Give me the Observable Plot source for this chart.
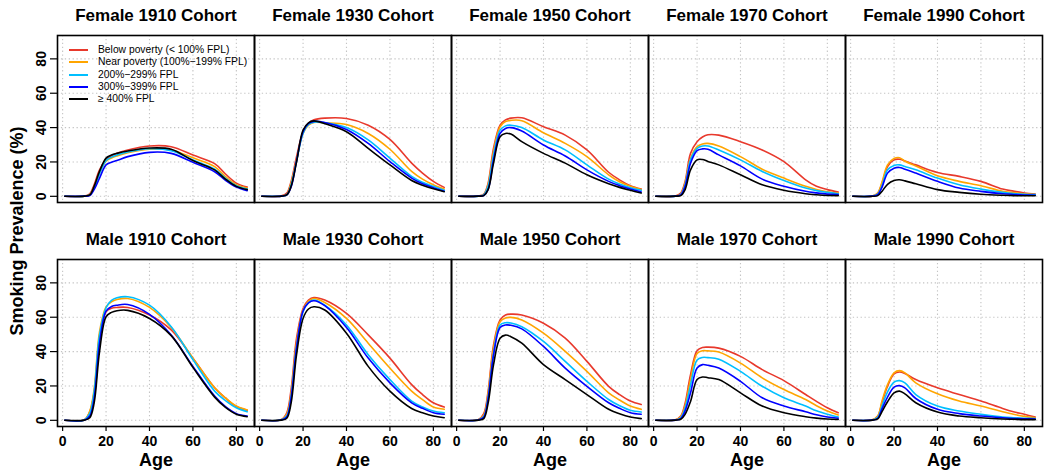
<!DOCTYPE html>
<html><head><meta charset="utf-8">
<script src="https://cdn.jsdelivr.net/npm/d3@7"></script>
<script src="https://cdn.jsdelivr.net/npm/@observablehq/plot@0.6"></script>
<style>
body{margin:0;background:#fff;font-family:"Liberation Sans",Arial,sans-serif;}
#wrap{position:relative;width:1050px;height:476px;}
#ylab{position:absolute;left:17px;top:231px;transform:translate(-50%,-50%) rotate(-90deg);font-weight:bold;font-size:18px;white-space:nowrap;}
#legend{position:absolute;left:69px;top:44px;font-size:10.3px;line-height:12.3px;}
.lrow{display:flex;align-items:center;height:12.3px;}
.sw{width:19px;height:2px;margin-right:10px;}
</style>
</head><body>
<div id="wrap"><div id="ylab">Smoking Prevalence (%)</div><div id="legend"></div></div>
<script>
const ages = [1, 10, 12.5, 14.5, 17, 20, 22.5, 25, 30, 40, 50, 60, 70, 75, 80, 85];
const groups = ["Below poverty (< 100% FPL)", "Near poverty (100%−199% FPL)", "200%−299% FPL", "300%−399% FPL", "≥ 400% FPL"];
const colors = ["#E8392C", "#FFA500", "#00BFFF", "#0000FF", "#000000"];
const titles = ["Female 1910 Cohort", "Female 1930 Cohort", "Female 1950 Cohort", "Female 1970 Cohort", "Female 1990 Cohort",
                "Male 1910 Cohort", "Male 1930 Cohort", "Male 1950 Cohort", "Male 1970 Cohort", "Male 1990 Cohort"];
const xTicks = [0, 20, 40, 60, 80];
const yTicks = [0, 20, 40, 60, 80];

// each panel: rows = groups (below, near, 200-299, 300-399, >=400), columns = ages
const female1910 = [
  [0, 0.2, 1.5, 6.7, 15.4, 21.2, 23.5, 25.0, 27.0, 29.3, 28.9, 24.0, 19.0, 13.0, 7.7, 5.4],
  [0, 0.1, 0.8, 5.4, 13.5, 20.5, 22.3, 23.5, 25.4, 27.4, 27.0, 22.4, 17.3, 11.5, 6.8, 4.8],
  [0, 0.1, 0.8, 5.0, 13.2, 20.8, 22.8, 24.0, 25.8, 27.7, 26.6, 21.2, 15.8, 10.5, 6.2, 4.2],
  [0, 0.1, 0.4, 3.9, 10.6, 18.3, 19.8, 20.8, 23.1, 25.6, 25.0, 19.8, 14.3, 9.3, 5.4, 3.3],
  [0, 0.1, 0.8, 5.8, 14.5, 22.2, 24.0, 25.0, 26.4, 28.1, 27.4, 20.8, 15.4, 10.0, 5.8, 3.9]
];
const female1930 = [
  [0, 0.3, 1.9, 8.7, 23.0, 37.6, 42.4, 44.5, 45.5, 45.3, 41.4, 33.1, 19.3, 13.5, 8.7, 5.2],
  [0, 0.2, 1.2, 7.7, 21.0, 36.6, 41.4, 43.0, 42.8, 41.8, 36.6, 27.4, 14.5, 10.0, 6.7, 4.2],
  [0, 0.2, 0.8, 6.7, 20.5, 36.6, 41.8, 43.2, 42.8, 40.0, 32.8, 22.2, 11.6, 8.2, 5.8, 3.5],
  [0, 0.1, 0.8, 5.4, 20.5, 37.6, 42.4, 43.6, 43.0, 38.9, 30.8, 20.2, 10.6, 7.3, 5.0, 2.9],
  [0, 0.1, 0.8, 5.8, 20.0, 38.5, 42.8, 43.9, 42.3, 37.6, 27.9, 18.3, 9.2, 6.5, 4.4, 2.7]
];
const female1950 = [
  [0, 0.2, 1.3, 7.7, 28.0, 41.4, 44.5, 45.5, 45.7, 40.5, 35.6, 27.0, 14.0, 9.6, 6.2, 4.2],
  [0, 0.2, 1.0, 6.7, 26.0, 40.5, 43.5, 44.2, 44.0, 37.0, 30.8, 23.1, 12.5, 8.5, 5.8, 3.9],
  [0, 0.1, 0.8, 5.8, 24.0, 38.5, 41.0, 41.4, 40.0, 32.8, 27.0, 18.3, 10.0, 7.2, 5.0, 3.5],
  [0, 0.1, 0.5, 4.0, 21.2, 36.6, 39.5, 40.0, 38.0, 29.9, 23.5, 15.4, 8.7, 6.2, 4.2, 2.5],
  [0, 0.1, 0.4, 3.9, 19.3, 34.7, 36.6, 36.2, 31.8, 25.0, 19.3, 12.5, 7.3, 5.2, 3.5, 1.9]
];
const female1970 = [
  [0, 0.2, 1.9, 8.7, 25.0, 31.8, 34.5, 35.8, 35.6, 31.8, 27.0, 20.2, 9.6, 5.8, 3.9, 2.5],
  [0, 0.1, 1.3, 7.7, 22.0, 28.9, 30.5, 30.8, 29.3, 23.1, 15.8, 10.6, 5.8, 4.0, 2.7, 1.9],
  [0, 0.1, 1.0, 6.7, 21.2, 27.9, 29.3, 29.3, 27.0, 21.2, 14.5, 9.2, 4.8, 3.3, 2.3, 1.5],
  [0, 0.1, 0.8, 5.8, 19.3, 26.6, 27.6, 27.4, 24.1, 17.7, 10.0, 5.8, 2.9, 2.0, 1.3, 1.0],
  [0, 0.1, 0.4, 3.9, 15.4, 21.2, 21.4, 20.3, 18.3, 12.5, 6.7, 3.5, 1.5, 0.9, 0.5, 0.4]
];
const female1990 = [
  [0, 0.1, 1.9, 7.7, 17.3, 21.2, 21.6, 20.6, 18.3, 13.9, 11.6, 8.7, 4.2, 3.0, 1.9, 1.3],
  [0, 0.1, 1.9, 8.5, 18.3, 22.0, 22.5, 20.4, 17.7, 11.9, 8.7, 6.2, 2.9, 2.2, 1.5, 1.1],
  [0, 0.1, 1.3, 6.2, 15.4, 18.0, 18.3, 17.3, 15.4, 10.6, 6.7, 4.2, 2.3, 1.6, 1.2, 1.0],
  [0, 0.1, 1.0, 5.4, 13.5, 16.4, 16.8, 15.8, 13.5, 8.7, 4.8, 2.9, 1.5, 1.1, 0.8, 0.6],
  [0, 0.0, 0.4, 3.0, 7.0, 9.2, 9.6, 9.0, 7.3, 3.9, 2.3, 1.2, 0.6, 0.4, 0.3, 0.3]
];
const male1910 = [
  [0, 0.3, 5.0, 16.0, 47.8, 63.2, 65.2, 65.7, 65.7, 61.3, 52.6, 36.2, 19.0, 13.0, 8.0, 5.8],
  [0, 0.3, 5.4, 18.0, 51.6, 66.0, 69.0, 70.3, 70.9, 65.7, 54.0, 36.2, 18.9, 13.0, 8.3, 6.0],
  [0, 0.2, 4.0, 16.5, 49.7, 65.5, 69.8, 71.3, 71.9, 67.0, 54.5, 35.3, 17.0, 11.5, 7.3, 5.0],
  [0, 0.1, 2.5, 12.5, 44.9, 63.6, 66.2, 67.0, 67.4, 61.7, 49.7, 31.4, 14.1, 8.0, 3.9, 2.5],
  [0, 0.1, 1.5, 10.0, 40.0, 60.3, 62.8, 63.8, 64.0, 59.3, 49.3, 30.8, 13.5, 7.5, 3.5, 2.1]
];
const male1930 = [
  [0, 0.5, 4.4, 18.0, 47.8, 65.1, 70.0, 71.5, 70.0, 62.2, 49.7, 36.2, 20.8, 15.0, 10.2, 7.7],
  [0, 0.4, 3.5, 15.5, 45.0, 64.2, 69.3, 70.9, 68.6, 59.3, 44.9, 30.4, 17.0, 12.0, 7.7, 6.4],
  [0, 0.3, 2.5, 14.0, 43.0, 63.2, 68.5, 70.0, 67.0, 55.5, 38.2, 23.7, 11.2, 7.8, 5.4, 4.4],
  [0, 0.2, 2.0, 13.0, 42.0, 63.6, 68.4, 69.6, 66.7, 54.0, 36.2, 21.8, 10.2, 7.0, 4.4, 3.5],
  [0, 0.1, 1.2, 10.0, 38.2, 59.3, 64.8, 66.1, 64.2, 50.7, 31.4, 17.0, 6.9, 4.4, 2.5, 1.5]
];
const male1950 = [
  [0, 0.4, 3.9, 17.0, 43.9, 58.4, 61.3, 61.8, 61.3, 56.5, 47.8, 34.3, 19.8, 15.0, 11.2, 9.2],
  [0, 0.3, 3.0, 15.5, 42.0, 57.4, 59.6, 59.9, 58.4, 50.7, 40.1, 28.5, 16.0, 11.8, 8.3, 6.4],
  [0, 0.2, 2.2, 13.5, 39.0, 55.5, 56.8, 56.6, 54.5, 45.9, 34.3, 22.7, 12.1, 8.5, 5.8, 4.8],
  [0, 0.2, 1.8, 12.5, 38.0, 54.0, 55.5, 55.3, 53.2, 43.0, 30.4, 19.8, 10.2, 7.0, 4.4, 3.5],
  [0, 0.1, 1.0, 10.0, 32.4, 47.8, 49.6, 48.7, 44.9, 32.4, 23.7, 15.0, 6.4, 3.8, 1.9, 1.0]
];
const male1970 = [
  [0, 0.3, 2.5, 10.0, 26.6, 40.5, 42.4, 42.6, 42.0, 37.2, 29.5, 23.1, 15.0, 11.0, 7.3, 4.4],
  [0, 0.2, 2.0, 8.5, 24.0, 38.9, 40.5, 40.4, 39.7, 33.3, 24.7, 17.9, 12.1, 8.5, 5.4, 3.1],
  [0, 0.2, 1.5, 7.0, 20.5, 35.1, 36.6, 36.5, 35.6, 28.5, 19.8, 13.1, 8.3, 5.5, 3.5, 1.9],
  [0, 0.1, 1.0, 5.5, 16.0, 30.4, 32.4, 32.0, 30.4, 22.7, 13.1, 8.3, 5.0, 3.2, 1.9, 1.2],
  [0, 0.1, 0.6, 3.5, 11.0, 23.7, 25.2, 24.8, 23.7, 16.0, 8.3, 4.4, 2.1, 1.3, 0.8, 0.5]
];
const male1990 = [
  [0, 0.3, 2.5, 10.5, 19.8, 27.0, 28.1, 27.2, 23.7, 18.9, 15.0, 11.2, 6.9, 5.0, 3.5, 1.9],
  [0, 0.3, 2.5, 11.5, 20.8, 27.6, 28.9, 27.6, 21.8, 15.4, 11.2, 8.3, 5.0, 3.5, 2.3, 1.5],
  [0, 0.2, 1.8, 8.5, 16.6, 22.2, 23.1, 21.8, 15.0, 8.3, 5.4, 3.5, 1.9, 1.5, 1.2, 1.0],
  [0, 0.1, 1.2, 6.8, 13.5, 19.3, 20.2, 18.9, 12.7, 6.4, 3.9, 2.5, 1.5, 1.1, 0.9, 0.8],
  [0, 0.1, 0.8, 5.2, 10.8, 16.0, 17.0, 15.4, 10.2, 4.8, 2.5, 1.5, 0.8, 0.6, 0.4, 0.4]
];
const panelValues = [female1910, female1930, female1950, female1970, female1990,
                     male1910, male1930, male1950, male1970, male1990];

const rows = [];
panelValues.forEach((series, p) => series.forEach((vals, g) => vals.forEach((v, k) =>
  rows.push({col: p % 5, row: Math.floor(p / 5), group: groups[g], age: ages[k], value: v}))));
const panelInfo = titles.map((t, p) => ({col: p % 5, row: Math.floor(p / 5), title: t}));

const font = "'Liberation Sans', Arial, Helvetica, sans-serif";
const chart = Plot.plot({
  width: 1050, height: 476,
  marginLeft: 56, marginRight: 8, marginTop: 35, marginBottom: 49,
  style: {fontFamily: font, background: "transparent", color: "#000"},
  fx: {domain: [0, 1, 2, 3, 4], padding: 0, axis: null},
  fy: {domain: [0, 1], paddingInner: 0.2533, paddingOuter: 0, axis: null},
  x: {domain: [-2.36, 88.36]},
  y: {domain: [-3.6, 93.6]},
  color: {domain: groups, range: colors},
  marks: [
    Plot.gridX(xTicks, {stroke: "#c4c4c4", strokeOpacity: 1, strokeDasharray: "1.3,2.6", strokeWidth: 1.1}),
    Plot.gridY(yTicks, {stroke: "#c4c4c4", strokeOpacity: 1, strokeDasharray: "1.3,2.6", strokeWidth: 1.1}),
    Plot.line(rows, {x: "age", y: "value", z: "group", stroke: "group", fx: "col", fy: "row",
      curve: "catmull-rom", strokeWidth: 1.6}),
    Plot.frame({stroke: "#000", strokeWidth: 1.6}),
    Plot.axisX(xTicks, {anchor: "bottom", facetAnchor: "bottom", tickSize: 5, tickPadding: 5,
      fontSize: 14, fontWeight: "bold", label: null, strokeWidth: 1.2}),
    Plot.axisY(yTicks, {anchor: "left", facetAnchor: "left", tickSize: 7, tickPadding: 5, tickRotate: -90,
      fontSize: 14, fontWeight: "bold", label: null, strokeWidth: 1.2}),
    Plot.text(panelInfo, {fx: "col", fy: "row", text: "title", frameAnchor: "top", dy: -20,
      lineAnchor: "middle", fontSize: 17, fontWeight: "bold"}),
    Plot.text(panelInfo.filter(d => d.row === 1), {fx: "col", fy: "row", text: () => "Age",
      frameAnchor: "bottom", dy: 34, lineAnchor: "middle", fontSize: 18, fontWeight: "bold"})
  ]
});
const wrap = document.getElementById("wrap");
wrap.insertBefore(chart, wrap.firstChild);
chart.style.position = "absolute"; chart.style.left = "0"; chart.style.top = "0";

const legend = document.getElementById("legend");
groups.forEach((g, i) => {
  const r = document.createElement("div"); r.className = "lrow";
  const s = document.createElement("div"); s.className = "sw"; s.style.backgroundColor = colors[i];
  const t = document.createElement("span"); t.textContent = g;
  r.appendChild(s); r.appendChild(t); legend.appendChild(r);
});
</script>
</body></html>
